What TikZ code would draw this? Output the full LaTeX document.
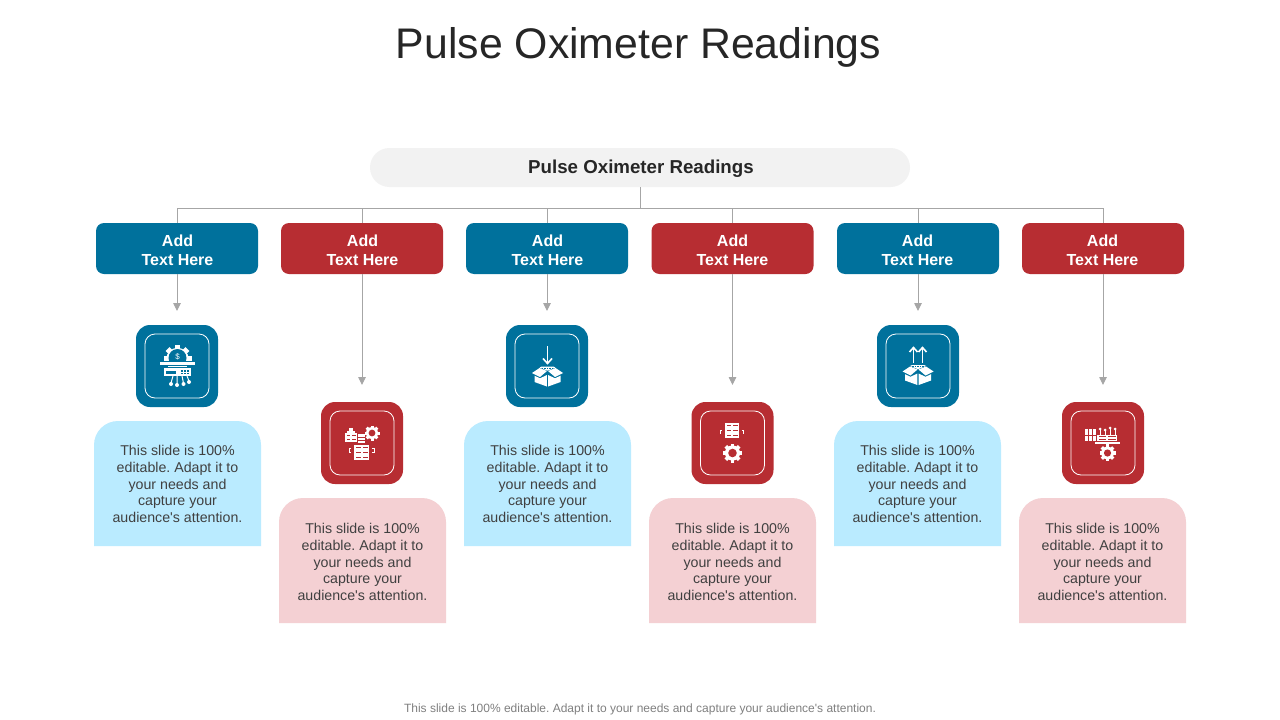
\documentclass[tikz,border=0pt]{standalone}
\usepackage{fontspec}
\setmainfont{Liberation Sans}[Ligatures=TeXOff]
\usetikzlibrary{arrows.meta}
\definecolor{tealc}{HTML}{00719C}
\definecolor{redc}{HTML}{B72D32}
\definecolor{lightblue}{HTML}{BAEBFF}
\definecolor{lightred}{HTML}{F4D0D3}
\definecolor{pillc}{HTML}{F2F2F2}
\definecolor{linec}{HTML}{A6A6A6}
\definecolor{bodyc}{HTML}{404040}
\tikzset{
  x=1pt,y=-1pt,
  hbox/.style={minimum width=162pt,minimum height=51pt,inner sep=0pt,rounded corners=8pt,text=white,align=center,
    font=\fontsize{16}{19}\selectfont\bfseries},
  hblue/.style={hbox,fill=tealc},
  hred/.style={hbox,fill=redc},
  conn/.style={draw=linec,line width=0.9pt},
  arr/.style={conn,-{Triangle[width=7.5pt,length=8pt,fill=linec]}},
  cardtext/.style={text=bodyc,align=center,inner sep=0pt,font=\fontsize{14.2}{16.7}\selectfont},
  iconbox/.style={minimum width=82pt,minimum height=82pt,inner sep=0pt,rounded corners=14pt},
  iconin/.style={minimum width=64pt,minimum height=64pt,inner sep=0pt,rounded corners=10pt,draw=white,line width=0.8pt,fill=none},
}
% gear: cx, cy, outer radius, background colour
\newcommand{\gearat}[4]{%
  \foreach \a in {0,45,90,135}{
    \fill[white,rotate around={\a:(#1,#2)}] (#1-0.2*#3,#2-#3) rectangle (#1+0.2*#3,#2+#3);
  }
  \fill[white] (#1,#2) circle[radius=0.8*#3];
  \fill[#4] (#1,#2) circle[radius=0.45*#3];
}
% server: x0, y0, x1, y1, rows, background
\newcommand{\serverat}[6]{%
  \fill[white] (#1,#2) rectangle (#3,#4);
  \pgfmathsetmacro{\rh}{(#4-#2)/#5}
  \foreach \i in {1,...,#5}{
    \pgfmathsetmacro{\ya}{#2+(\i-1)*\rh+0.38*\rh}
    \pgfmathsetmacro{\yb}{#2+(\i-1)*\rh+0.62*\rh}
    \fill[#6] (#1+1.5,\ya) rectangle (#1+0.5*#3-0.5*#1-1,\yb);
    \fill[#6] (#1+0.5*#3-0.5*#1+1,\ya) rectangle (#3-1.5,\yb);
  }
}
% open box: cx, cy, background
\newcommand{\openbox}[3]{%
  \begin{scope}[shift={(#1,#2)}]
    \fill[white] (-15.5,-3.5) -- (-8,-8.5) -- (-0.5,-5.5) -- (-7.5,0.5) -- cycle;
    \fill[white] (15.5,-3.5) -- (8,-8.5) -- (0.5,-5.5) -- (7.5,0.5) -- cycle;
    \fill[white] (-6,-10) -- (6,-10) -- (8,-9) -- (0,-5.8) -- (-8,-9) -- cycle;
    \foreach \xx in {-5,-2.5,0,2.5,5}{\fill[#3] (\xx-0.7,-8.8) rectangle (\xx+0.7,-7.8);}
    \fill[white] (-13,-0.8) -- (-7.5,1.8) -- (-0.6,-1.5) -- (-0.6,10) -- (-13,5.5) -- cycle;
    \fill[white] (13,-0.8) -- (7.5,1.8) -- (0.6,-1.5) -- (0.6,10) -- (13,5.5) -- cycle;
  \end{scope}
}
\begin{document}
\frenchspacing
\begin{tikzpicture}
\useasboundingbox (0,0) rectangle (1280,720);
\fill[white] (0,0) rectangle (1280,720);

\node[text=black!85,inner sep=0pt,font=\fontsize{42.8}{50}\selectfont] (title) at (638.5,47) {Pulse Oximeter Readings};
\node[fill=pillc,minimum width=540pt,minimum height=39pt,inner sep=0pt,rounded corners=19.5pt,text=black!85,
  font=\fontsize{18.7}{21}\selectfont\bfseries] (pill) at (640,167.5) {};
\node[text=black!85,inner sep=0pt,font=\fontsize{18.7}{21}\selectfont\bfseries] (pilltext) at (641,168.5) {Pulse Oximeter Readings};

\node[hblue] (b1) at (177,248.5) {};
\node[hred]  (b2) at (362,248.5) {};
\node[hblue] (b3) at (547,248.5) {};
\node[hred]  (b4) at (732.5,248.5) {};
\node[hblue] (b5) at (918,248.5) {};
\node[hred]  (b6) at (1103,248.5) {};
\foreach \cx/\n in {177.5/1,362.5/2,547.5/3,732.5/4,917.5/5,1102.5/6}{
  \node[text=white,align=center,inner sep=0pt,font=\fontsize{16}{19}\selectfont\bfseries] (bt\n) at (\cx,250) {Add\\Text Here};
}

\coordinate (bus) at (640,208);
\coordinate (a1) at (177,311);
\coordinate (a2) at (362,385);
\coordinate (a3) at (547,311);
\coordinate (a4) at (732.5,385);
\coordinate (a5) at (918,311);
\coordinate (a6) at (1103,385);
\draw[conn] (pill.south) -- (bus);
\foreach \n in {1,...,6}{
  \draw[conn] (bus) -| (b\n.north);
  \draw[arr] (b\n.south) -- (a\n);
}

% cards
\foreach \cx/\col/\ty/\tc/\n in {177.5/lightblue/421/484/1,362.5/lightred/498/562/2,547.5/lightblue/421/484/3,732.5/lightred/498/562/4,917.5/lightblue/421/484/5,1102.5/lightred/498/562/6}{
  \fill[\col] (\cx-83.5,\ty+125) [rounded corners=24pt] -- (\cx-83.5,\ty) -- (\cx+83.5,\ty) [sharp corners] -- (\cx+83.5,\ty+125) -- cycle;
  \node[cardtext] (card\n) at (\cx,\tc) {This slide is 100\%\\editable. Adapt it to\\your needs and\\capture your\\audience's attention.};
}

% icon frames
\foreach \cx/\col/\cy/\n in {177/tealc/366/1,362/redc/443/2,547/tealc/366/3,732.5/redc/443/4,918/tealc/366/5,1103/redc/443/6}{
  \node[iconbox,fill=\col] (icon\n) at (\cx,\cy) {};
  \node[iconin] (iconi\n) at (\cx,\cy) {};
}

% icon 1
\gearat{177.5}{359}{14}{tealc}
\fill[tealc] (177.5,358) circle[radius=9];
\node[text=white,inner sep=0pt,font=\fontsize{8}{8}\selectfont] (dollar) at (177.5,357) {\$};
\fill[tealc] (158,360.5) rectangle (197,375);
\fill[white] (160,362) rectangle (195,364.5);
\fill[white] (168,365.5) rectangle (187,367);
\fill[white] (164,368) rectangle (191,376);
\fill[tealc] (166,370.5) rectangle (176,373.5);
\foreach \px in {181,184,187}{\fill[tealc] (\px,370) rectangle (\px+1.5,371.5); \fill[tealc] (\px,372.5) rectangle (\px+1.5,374);}
\draw[white,line width=1pt] (173,376) -- (171,383) (177,376) -- (177,384) (182,376) -- (183.5,383) (187,376) -- (189,381);
\foreach \px/\py in {171/384,177/385,183.5/384,189/382}{\fill[white] (\px,\py) circle[radius=2];}

% icon 2
\serverat{345}{433}{357}{442}{2}{redc}
\fill[white] (349,428) rectangle (353,433);
\fill[white] (347,430.5) rectangle (355,433);
\fill[white] (357.5,434) rectangle (365,443);
\draw[redc,line width=0.5pt] (357.5,437) -- (365,437) (357.5,440) -- (365,440);
\gearat{372}{433}{7.5}{redc}
\serverat{354}{445}{369}{460}{3}{redc}
\draw[white,line width=1pt] (351,448) -- (349,448) -- (349,452) -- (351,452);
\draw[white,line width=1pt] (372,448) -- (374,448) -- (374,452) -- (372,452);

% icon 3
\draw[white,line width=1.6pt] (547.5,346) -- (547.5,362);
\draw[white,line width=1.6pt] (543,358.5) -- (547.5,363.5) -- (552,358.5);
\openbox{547.5}{376.5}{tealc}

% icon 4
\serverat{725}{423}{739}{438}{3}{redc}
\draw[white,line width=1pt] (722,430) -- (720.5,430) -- (720.5,434);
\draw[white,line width=1pt] (742,430) -- (743.5,430) -- (743.5,434);
\gearat{732.5}{453}{9.5}{redc}

% icon 5
\draw[white,line width=1.6pt] (913.5,349) -- (913.5,363) (922.5,349) -- (922.5,363);
\draw[white,line width=1.6pt] (909.5,352) -- (913.5,347.5) -- (917.5,352);
\draw[white,line width=1.6pt] (918.5,352) -- (922.5,347.5) -- (926.5,352);
\openbox{918}{375}{tealc}

% icon 6
\fill[white] (1085,429) rectangle (1096,441);
\draw[redc,line width=0.6pt] (1088.7,429) -- (1088.7,441) (1092.3,429) -- (1092.3,441) (1085,435) -- (1096,435);
\serverat{1097}{435}{1117}{441}{2}{redc}
\foreach \px/\tp in {1100/429,1105/430,1110/428,1115/429}{
  \draw[white,line width=1pt] (\px,\tp) -- (\px,435);
  \fill[white] (\px,\tp) circle[radius=1.5];
}
\fill[white] (1095,442) rectangle (1120,444);
\fill[white] (1106,444) rectangle (1109,446);
\gearat{1107.5}{453}{8}{redc}

\node[text=black!50,inner sep=0pt,font=\fontsize{12}{14}\selectfont] (foot) at (640,709.5) {This slide is 100\% editable. Adapt it to your needs and capture your audience's attention.};
\end{tikzpicture}
\end{document}
